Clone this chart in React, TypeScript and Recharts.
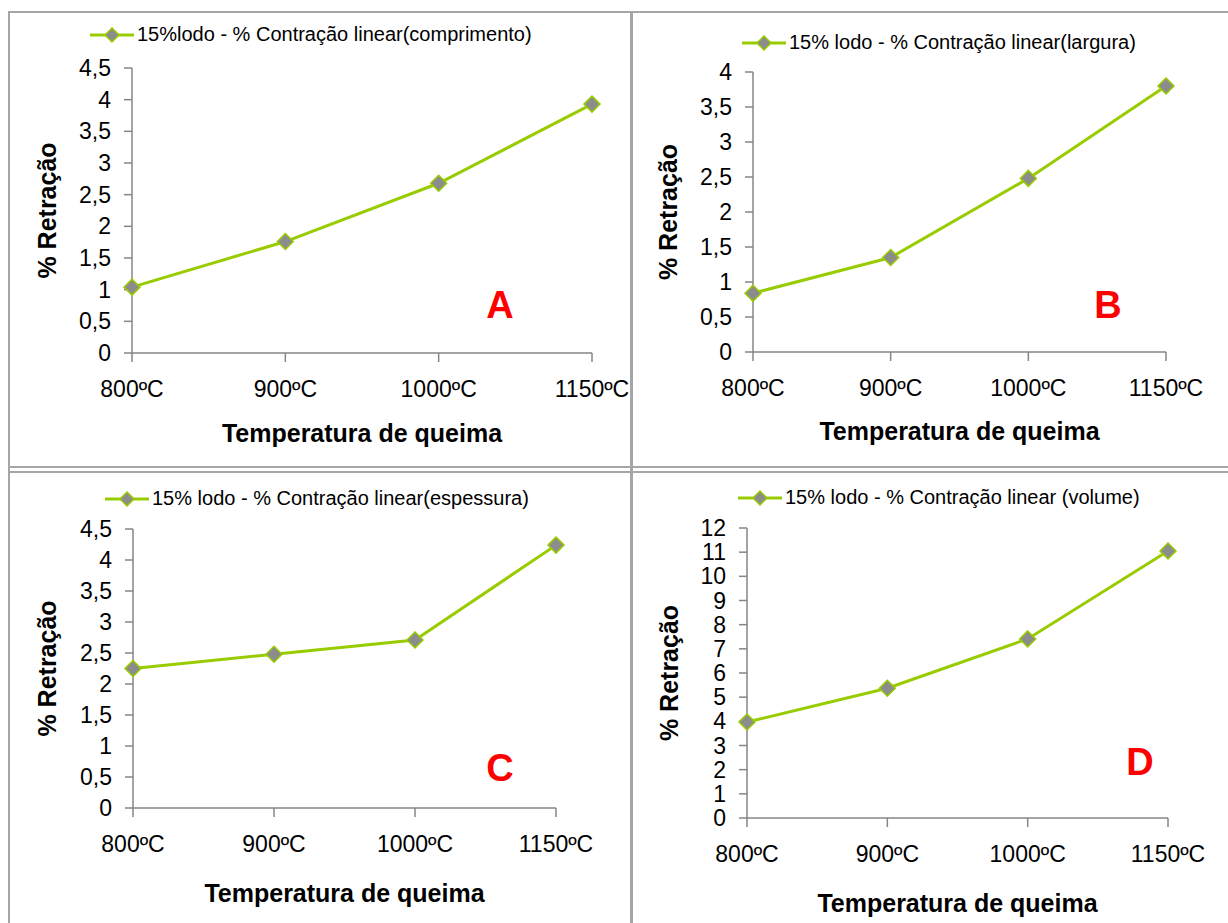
import React from 'react';
import { LineChart, Line, XAxis, YAxis, Legend } from 'recharts';

const temps = ['800ºC', '900ºC', '1000ºC', '1150ºC'];
const comprimento = [1.04, 1.76, 2.68, 3.93];
const largura = [0.84, 1.35, 2.48, 3.8];
const espessura = [2.25, 2.48, 2.71, 4.24];
const volume = [3.97, 5.37, 7.41, 11.05];

const ticksA = [0, 0.5, 1, 1.5, 2, 2.5, 3, 3.5, 4, 4.5];
const ticksB = [0, 0.5, 1, 1.5, 2, 2.5, 3, 3.5, 4];
const ticksD = [0, 1, 2, 3, 4, 5, 6, 7, 8, 9, 10, 11, 12];

const GREEN = '#99cc00';
const MARKER = '#8c8c8c';
const AXIS = '#868686';
const BORDER = '#a6a6a6';

const Diamond = (props: any) => {
  const { cx, cy } = props;
  if (cx == null || cy == null) return null;
  const r = 8;
  return (
    <polygon
      points={`${cx},${cy - r} ${cx + r},${cy} ${cx},${cy + r} ${cx - r},${cy}`}
      fill={MARKER}
      stroke={GREEN}
      strokeWidth={1.5}
    />
  );
};

const LegendBox = (props: any) => {
  const entry = (props.payload || [])[0];
  if (!entry) return null;
  return (
    <div style={{ display: 'flex', alignItems: 'center', whiteSpace: 'nowrap' }}>
      <svg width={44} height={18}>
        <line x1={0} y1={9} x2={44} y2={9} stroke={GREEN} strokeWidth={3} />
        <polygon points="22,2 29,9 22,16 15,9" fill={MARKER} stroke={GREEN} strokeWidth={1.5} />
      </svg>
      <span style={{ marginLeft: 3, fontSize: 20, color: '#000' }}>{entry.value}</span>
    </div>
  );
};

const yTitle = (x: number) => (props: any) => {
  const vb = props.viewBox;
  const cy = vb.y + vb.height / 2;
  return (
    <text
      x={x}
      y={cy}
      transform={`rotate(-90 ${x} ${cy})`}
      textAnchor="middle"
      dominantBaseline="central"
      fontSize={25}
      fontWeight="bold"
      fill="#000"
    >
      % Retração
    </text>
  );
};

const fmt = (v: number) => String(v).replace('.', ',');

interface PanelProps {
  left: number;
  top: number;
  width: number;
  height: number;
  plot: { l: number; r: number; t: number; b: number };
  values: number[];
  name: string;
  max: number;
  ticks: number[];
  legend: { left: number; top: number };
  yTitleX: number;
  xTitleOffset: number;
  letter: string;
  letterPos: { x: number; y: number };
}

const Panel: React.FC<PanelProps> = (p) => {
  const data = temps.map((t, i) => ({ temp: t, v: p.values[i] }));
  return (
    <div style={{ position: 'absolute', left: p.left, top: p.top, width: p.width, height: p.height }}>
      <LineChart
        width={p.width}
        height={p.height}
        data={data}
        margin={{ top: p.plot.t, right: p.width - p.plot.r, bottom: 0, left: 0 }}
      >
        <XAxis
          dataKey="temp"
          height={p.height - p.plot.b}
          interval={0}
          tickSize={9}
          tickMargin={19}
          axisLine={{ stroke: AXIS, strokeWidth: 1.5 }}
          tickLine={{ stroke: AXIS, strokeWidth: 1.5 }}
          tick={{ fill: '#000', fontSize: 23 }}
          label={{
            value: 'Temperatura de queima',
            position: 'insideBottom',
            offset: p.xTitleOffset,
            fill: '#000',
            fontSize: 25,
            fontWeight: 'bold',
          }}
        />
        <YAxis
          width={p.plot.l}
          domain={[0, p.max]}
          ticks={p.ticks}
          interval={0}
          tickSize={8}
          tickMargin={13}
          tickFormatter={fmt}
          axisLine={{ stroke: AXIS, strokeWidth: 1.5 }}
          tickLine={{ stroke: AXIS, strokeWidth: 1.5 }}
          tick={{ fill: '#000', fontSize: 23 }}
          label={yTitle(p.yTitleX)}
        />
        <Legend
          verticalAlign="middle"
          align="center"
          layout="horizontal"
          content={LegendBox}
          wrapperStyle={{ left: p.legend.left, top: p.legend.top, width: 'auto' }}
        />
        <Line
          type="linear"
          dataKey="v"
          name={p.name}
          stroke={GREEN}
          strokeWidth={3}
          dot={<Diamond />}
          activeDot={false}
          isAnimationActive={false}
        />
      </LineChart>
      <div
        style={{
          position: 'absolute',
          left: p.letterPos.x - 30,
          top: p.letterPos.y - 32,
          width: 60,
          textAlign: 'center',
          fontSize: 38,
          lineHeight: '38px',
          fontWeight: 'bold',
          color: '#ff0000',
        }}
      >
        {p.letter}
      </div>
    </div>
  );
};

const line = (style: React.CSSProperties) => (
  <div style={{ position: 'absolute', background: BORDER, ...style }} />
);

export default function App() {
  return (
    <div
      style={{
        position: 'absolute',
        left: 0,
        top: 0,
        width: 1228,
        height: 923,
        overflow: 'hidden',
        background: '#fff',
        fontFamily: '"Liberation Sans", Arial, sans-serif',
      }}
    >
      <Panel
        left={0}
        top={0}
        width={630}
        height={468}
        plot={{ l: 132, r: 592, t: 68, b: 353 }}
        values={comprimento}
        name="15%lodo - % Contração linear(comprimento)"
        max={4.5}
        ticks={ticksA}
        legend={{ left: 90, top: 23 }}
        yTitleX={47}
        xTitleOffset={26}
        letter="A"
        letterPos={{ x: 500, y: 318 }}
      />
      <Panel
        left={630}
        top={0}
        width={598}
        height={468}
        plot={{ l: 123, r: 536, t: 72, b: 352 }}
        values={largura}
        name="15% lodo - % Contração linear(largura)"
        max={4}
        ticks={ticksB}
        legend={{ left: 112, top: 31 }}
        yTitleX={38}
        xTitleOffset={28}
        letter="B"
        letterPos={{ x: 478, y: 318 }}
      />
      <Panel
        left={0}
        top={468}
        width={630}
        height={455}
        plot={{ l: 133, r: 556, t: 61, b: 340 }}
        values={espessura}
        name="15% lodo - % Contração linear(espessura)"
        max={4.5}
        ticks={ticksA}
        legend={{ left: 105, top: 19 }}
        yTitleX={47}
        xTitleOffset={21}
        letter="C"
        letterPos={{ x: 500, y: 313 }}
      />
      <Panel
        left={630}
        top={468}
        width={598}
        height={455}
        plot={{ l: 117, r: 538, t: 60, b: 350 }}
        values={volume}
        name="15% lodo - % Contração linear (volume)"
        max={12}
        ticks={ticksD}
        legend={{ left: 108, top: 18 }}
        yTitleX={39}
        xTitleOffset={11}
        letter="D"
        letterPos={{ x: 510, y: 307 }}
      />
      {line({ left: 8, top: 11, width: 1220, height: 2 })}
      {line({ left: 8, top: 11, width: 2, height: 912 })}
      {line({ left: 630, top: 11, width: 3, height: 912 })}
      {line({ left: 8, top: 466, width: 1220, height: 2 })}
      {line({ left: 8, top: 471, width: 1220, height: 2 })}
    </div>
  );
}
